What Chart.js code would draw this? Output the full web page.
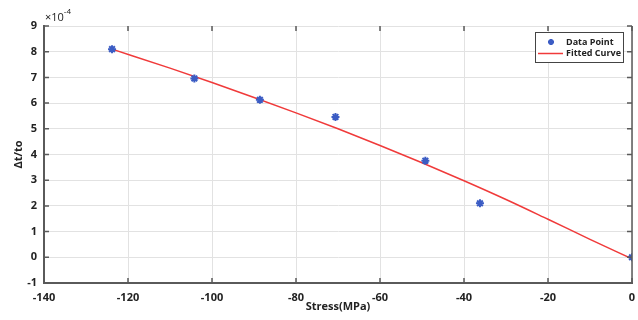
<!doctype html>
<html lang="en">

<head>
    <meta charset="utf-8">
    <title>Stress vs strain change</title>
    <script src="https://cdn.jsdelivr.net/npm/chart.js@4.4.0/dist/chart.umd.min.js"></script>
    <style>
        html, body { margin: 0; padding: 0; background: #fff; }
        #wrap { width: 638px; height: 320px; position: relative; }
    </style>
</head>

<body>
    <div id="wrap">
        <canvas id="myChart"></canvas>
    </div>

    <script type="text/javascript">
        // measured points: stress (MPa) and dt/t0 in units of 1e-4
        var stressPoints = [-123.8, -104.2, -88.6, -70.6, -49.2, -36.2, 0];
        var strainPoints = [8.10, 6.96, 6.13, 5.46, 3.76, 2.10, 0.00];

        // fitted curve, sampled along its length (same units)
        var stressFit = [-123.8, -110, -100, -90, -80, -70, -60, -50, -40, -30, -20, -10, 0];
        var strainFit = [8.10, 7.36, 6.80, 6.22, 5.62, 5.00, 4.35, 3.68, 2.98, 2.25, 1.48, 0.70, -0.06];

        var seriesNames = ['Data Point', 'Fitted Curve'];
        var xTickStep = 20;
        var yTickStep = 1;
        var yExponent = -4;

        var AXIS_COLOR = '#5a5a5a';
        var TEXT_COLOR = '#222';
        var FONT = '"Open Sans", "DejaVu Sans", sans-serif';

        function toXY(xs, ys) {
            return xs.map(function (x, i) { return { x: x, y: ys[i] }; });
        }

        // inward ticks on all four sides, right border, exponent label and legend box
        var frame = {
            id: 'frame',
            afterDraw: function (chart) {
                var ctx = chart.ctx;
                var a = chart.chartArea;
                var xs = chart.scales.x, ys = chart.scales.y;
                ctx.save();
                ctx.strokeStyle = AXIS_COLOR;
                ctx.lineWidth = 1.5;
                ctx.beginPath();
                ctx.moveTo(a.right, a.top);
                ctx.lineTo(a.right, a.bottom);
                ctx.stroke();

                ctx.beginPath();
                xs.ticks.forEach(function (t) {
                    var px = xs.getPixelForValue(t.value);
                    ctx.moveTo(px, a.bottom); ctx.lineTo(px, a.bottom - 5);
                    ctx.moveTo(px, a.top); ctx.lineTo(px, a.top + 5);
                });
                ys.ticks.forEach(function (t) {
                    var py = ys.getPixelForValue(t.value);
                    ctx.moveTo(a.left, py); ctx.lineTo(a.left + 5, py);
                    ctx.moveTo(a.right, py); ctx.lineTo(a.right - 5, py);
                });
                ctx.stroke();

                // x10^-4 above the y axis
                ctx.fillStyle = TEXT_COLOR;
                ctx.textBaseline = 'alphabetic';
                ctx.textAlign = 'left';
                ctx.font = '11px ' + FONT;
                ctx.fillText('\u00d710', a.left + 1, a.top - 5);
                var w = ctx.measureText('\u00d710').width;
                ctx.font = '8px ' + FONT;
                ctx.fillText(String(yExponent), a.left + 1 + w, a.top - 12);

                // legend
                var lx = 535, ly = 32, lw = 88, lh = 30;
                ctx.fillStyle = '#fff';
                ctx.fillRect(lx, ly, lw, lh);
                ctx.strokeStyle = '#444';
                ctx.lineWidth = 1;
                ctx.strokeRect(lx + 0.5, ly + 0.5, lw, lh);

                var d0 = chart.data.datasets[0], d1 = chart.data.datasets[1];
                // star marker sample
                var cx = lx + 16, cy = ly + 10;
                ctx.strokeStyle = d0.borderColor;
                ctx.lineWidth = 2;
                ctx.beginPath();
                for (var k = 0; k < 4; k++) {
                    var ang = k * Math.PI / 4;
                    ctx.moveTo(cx - 3 * Math.cos(ang), cy - 3 * Math.sin(ang));
                    ctx.lineTo(cx + 3 * Math.cos(ang), cy + 3 * Math.sin(ang));
                }
                ctx.stroke();
                // line sample
                ctx.strokeStyle = d1.borderColor;
                ctx.lineWidth = 1.5;
                ctx.beginPath();
                ctx.moveTo(lx + 3, ly + 21.5);
                ctx.lineTo(lx + 28, ly + 21.5);
                ctx.stroke();

                ctx.fillStyle = TEXT_COLOR;
                ctx.font = 'bold 9px ' + FONT;
                ctx.textBaseline = 'middle';
                ctx.fillText(d0.label, lx + 31, cy);
                ctx.fillText(d1.label, lx + 31, ly + 21.5);
                ctx.restore();
            }
        };

        var chart = new Chart(document.getElementById('myChart'), {
            type: 'scatter',
            data: {
                datasets: [{
                    label: seriesNames[0],
                    data: toXY(stressPoints, strainPoints),
                    pointStyle: 'star',
                    pointRadius: 4,
                    borderWidth: 2,
                    borderColor: '#3b5cc4',
                    backgroundColor: '#3b5cc4',
                    order: 0,
                }, {
                    label: seriesNames[1],
                    type: 'line',
                    data: toXY(stressFit, strainFit),
                    borderColor: '#f03a3a',
                    borderWidth: 1.5,
                    pointRadius: 0,
                    tension: 0.4,
                    cubicInterpolationMode: 'monotone',
                    order: 1,
                }]
            },
            options: {
                responsive: true,
                maintainAspectRatio: false,
                animation: false,
                layout: { padding: { top: 26, right: 6, left: 0, bottom: 0 } },
                plugins: {
                    legend: { display: false },
                    tooltip: { enabled: false },
                },
                scales: {
                    x: {
                        type: 'linear',
                        min: -140,
                        max: 0,
                        ticks: {
                            stepSize: xTickStep,
                            color: TEXT_COLOR,
                            font: { family: FONT, size: 11, weight: 'bold' },
                            padding: 8,
                            maxRotation: 0,
                        },
                        grid: { color: '#e2e2e2', lineWidth: 1, drawTicks: false },
                        border: { color: AXIS_COLOR, width: 2 },
                        title: {
                            display: true,
                            text: 'Stress(MPa)',
                            color: TEXT_COLOR,
                            font: { family: FONT, size: 11, weight: 'bold' },
                            padding: { top: 0, bottom: 7 },
                        },
                        afterFit: function (s) {
                            s.height = 37;
                            s.paddingLeft = 0;
                            s.paddingRight = 0;
                        },
                    },
                    y: {
                        type: 'linear',
                        min: -1,
                        max: 9,
                        ticks: {
                            stepSize: yTickStep,
                            color: TEXT_COLOR,
                            font: { family: FONT, size: 11, weight: 'bold' },
                            padding: 7,
                        },
                        grid: { color: '#e2e2e2', lineWidth: 1, drawTicks: false },
                        border: { color: AXIS_COLOR, width: 2 },
                        title: {
                            display: true,
                            text: '\u0394t/to',
                            color: TEXT_COLOR,
                            font: { family: FONT, size: 11, weight: 'bold' },
                            padding: { top: 12, bottom: 0 },
                        },
                        afterFit: function (s) {
                            s.width = 44;
                            s.paddingTop = 0;
                            s.paddingBottom = 0;
                        },
                    }
                }
            },
            plugins: [frame]
        });
    </script>
</body>

</html>
